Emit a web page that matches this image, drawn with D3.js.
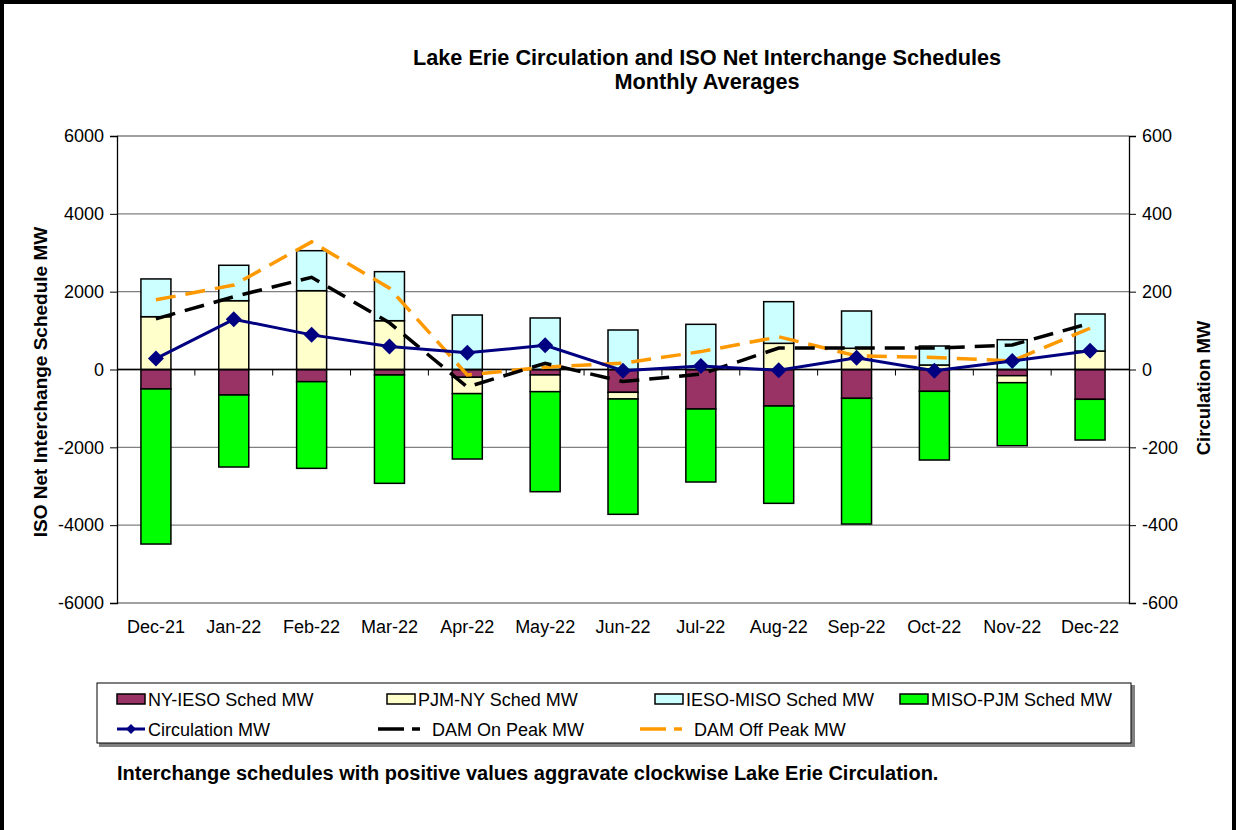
<!DOCTYPE html>
<html><head><meta charset="utf-8">
<script src="https://cdn.jsdelivr.net/npm/d3@7"></script>
<style>body{margin:0;background:#fff;}svg{display:block;font-family:"Liberation Sans",Arial,sans-serif;}</style>
</head><body><svg id="c" width="1236" height="830"></svg>
<script>
const categories = ["Dec-21","Jan-22","Feb-22","Mar-22","Apr-22","May-22","Jun-22","Jul-22","Aug-22","Sep-22","Oct-22","Nov-22","Dec-22"];
const nyIeso   = [-500,-655,-313,-141,-200,-140,-586,-1015,-938,-741,-561,-159,-766];
const pjmNy    = [1357,1768,2025,1254,-420,-430,-172,0,673,545,116,-180,475];
const iesoMiso = [970,910,1028,1260,1400,1324,1015,1161,1070,958,488,766,951];
const misoPjm  = [-3985,-1851,-2227,-2784,-1680,-2570,-2963,-1876,-2501,-3230,-1765,-1619,-1046];
const circulation = [28,129,89,59,43,62,-3,9,-2,30,-3,22,48];
const damOnPeak   = [130,187,237,120,-45,16,-31,-12,55,55,55,63,119];
const damOffPeak  = [179,217,328,209,-14,6,16,46,84,35,31,22,106];
const leftTicks = [-6000,-4000,-2000,0,2000,4000,6000];
const rightTicks = [-600,-400,-200,0,200,400,600];

const barSeries = [
  {name:"NY-IESO Sched MW", values:nyIeso, color:"#993366"},
  {name:"PJM-NY Sched MW", values:pjmNy, color:"#FFFFCC"},
  {name:"IESO-MISO Sched MW", values:iesoMiso, color:"#CCFFFF"},
  {name:"MISO-PJM Sched MW", values:misoPjm, color:"#00FF00"}
];
const lineSeries = [
  {name:"Circulation MW", values:circulation, color:"#000080", dash:null, marker:true},
  {name:"DAM On Peak MW", values:damOnPeak, color:"#000000", dash:"20,10", marker:false},
  {name:"DAM Off Peak MW", values:damOffPeak, color:"#FF9900", dash:"20,10", marker:false}
];

const svg = d3.select("#c");
const L=117, R=1129, T=136, B=603;
const x = d3.scaleBand().domain(categories).range([L,R]).padding(0);
const yL = d3.scaleLinear().domain([-6000,6000]).range([B,T]);
const yR = d3.scaleLinear().domain([-600,600]).range([B,T]);

// outer frame
svg.append("rect").attr("x",2).attr("y",2).attr("width",1232).attr("height",840)
  .attr("fill","none").attr("stroke","#000").attr("stroke-width",4);

// title
svg.append("text").attr("x",707).attr("y",65).attr("text-anchor","middle")
  .attr("font-size",21.7).attr("font-weight","bold").text("Lake Erie Circulation and ISO Net Interchange Schedules");
svg.append("text").attr("x",707).attr("y",89).attr("text-anchor","middle")
  .attr("font-size",21.7).attr("font-weight","bold").text("Monthly Averages");

// gridlines
svg.append("g").selectAll("line").data(leftTicks).join("line")
  .attr("x1",L).attr("x2",R).attr("y1",d=>yL(d)).attr("y2",d=>yL(d))
  .attr("stroke","#808080").attr("stroke-width",1.3);

// left axis
const gl = svg.append("g").attr("transform",`translate(${L},0)`)
  .call(d3.axisLeft(yL).tickValues(leftTicks).tickSize(7).tickPadding(6).tickFormat(d=>String(d)));
gl.select(".domain").attr("stroke","#000").attr("stroke-width",1.3);
gl.selectAll(".tick line").attr("stroke","#000");
gl.selectAll("text").attr("font-size",18).attr("font-family","Liberation Sans, Arial, sans-serif").attr("fill","#000");

// right axis
const gr = svg.append("g").attr("transform",`translate(${R},0)`)
  .call(d3.axisRight(yR).tickValues(rightTicks).tickSize(7).tickPadding(6).tickFormat(d=>String(d)));
gr.select(".domain").attr("stroke","#000").attr("stroke-width",1.3);
gr.selectAll(".tick line").attr("stroke","#000");
gr.selectAll("text").attr("font-size",18).attr("font-family","Liberation Sans, Arial, sans-serif").attr("fill","#000");

// axis titles
svg.append("text").attr("transform",`translate(47,${382}) rotate(-90)`).attr("text-anchor","middle")
  .attr("font-size",19).attr("font-weight","bold").text("ISO Net Interchange Schedule MW");
svg.append("text").attr("transform",`translate(1210,${388}) rotate(-90)`).attr("text-anchor","middle")
  .attr("font-size",18.5).attr("font-weight","bold").text("Circulation MW");

// stacked bars
const bw = 30;
const stacks = [];
categories.forEach((c,i)=>{
  let pos=0, neg=0;
  barSeries.forEach(s=>{
    const v = s.values[i];
    if (v>=0){ stacks.push({c, y0:pos, y1:pos+v, color:s.color}); pos+=v; }
    else { stacks.push({c, y0:neg+v, y1:neg, color:s.color}); neg+=v; }
  });
});
svg.append("g").selectAll("rect").data(stacks.filter(d=>d.y1-d.y0>0)).join("rect")
  .attr("x",d=>x(d.c)+x.bandwidth()/2-bw/2).attr("width",bw)
  .attr("y",d=>yL(d.y1)).attr("height",d=>yL(d.y0)-yL(d.y1))
  .attr("fill",d=>d.color).attr("stroke","#000").attr("stroke-width",1.5);

// zero axis with category ticks
svg.append("line").attr("x1",L).attr("x2",R).attr("y1",yL(0)).attr("y2",yL(0)).attr("stroke","#000").attr("stroke-width",1.3);
svg.append("g").selectAll("line").data(categories.slice(1)).join("line")
  .attr("x1",d=>x(d)).attr("x2",d=>x(d)).attr("y1",yL(0)).attr("y2",yL(0)+6)
  .attr("stroke","#000").attr("stroke-width",1);

// x labels
svg.append("g").selectAll("text").data(categories).join("text")
  .attr("x",d=>x(d)+x.bandwidth()/2).attr("y",633).attr("text-anchor","middle")
  .attr("font-size",18).text(d=>d);

// lines
const line = d3.line().x((d,i)=>x(categories[i])+x.bandwidth()/2).y(d=>yR(d));
lineSeries.slice().reverse().forEach(s=>{
  svg.append("path").datum(s.values).attr("d",line).attr("fill","none")
    .attr("stroke",s.color).attr("stroke-width",s.marker?3:3.5)
    .attr("stroke-dasharray",s.dash);
  if (s.marker){
    svg.append("g").selectAll("path").data(s.values).join("path")
      .attr("transform",(d,i)=>`translate(${x(categories[i])+x.bandwidth()/2},${yR(d)})`)
      .attr("d","M0,-8L8,0L0,8L-8,0Z").attr("fill",s.color);
  }
});

// legend
const lg = svg.append("g");
lg.append("rect").attr("x",99).attr("y",685).attr("width",1036).attr("height",62).attr("fill","#808080");
lg.append("rect").attr("x",97).attr("y",683).attr("width",1034).attr("height",60).attr("fill","#fff").attr("stroke","#000").attr("stroke-width",1);
const colX = [117,387,655,900];
barSeries.forEach((s,i)=>{
  lg.append("rect").attr("x",colX[i]).attr("y",694).attr("width",28).attr("height",10)
    .attr("fill",s.color).attr("stroke","#000").attr("stroke-width",1.5);
  lg.append("text").attr("x",colX[i]+31).attr("y",706).attr("font-size",18).text(s.name);
});
const lcolX = [117,378,640];
lineSeries.forEach((s,i)=>{
  if (s.marker){
    lg.append("line").attr("x1",lcolX[i]).attr("x2",lcolX[i]+28).attr("y1",729).attr("y2",729).attr("stroke",s.color).attr("stroke-width",3);
    lg.append("path").attr("transform",`translate(${lcolX[i]+14},729)`).attr("d","M0,-5L5,0L0,5L-5,0Z").attr("fill",s.color);
    lg.append("text").attr("x",lcolX[i]+31).attr("y",736).attr("font-size",18).text(s.name);
  } else {
    lg.append("line").attr("x1",lcolX[i]).attr("x2",lcolX[i]+42).attr("y1",729).attr("y2",729).attr("stroke",s.color).attr("stroke-width",3.5).attr("stroke-dasharray","26,8");
    lg.append("text").attr("x",lcolX[i]+54).attr("y",736).attr("font-size",18).text(s.name);
  }
});

// footnote
svg.append("text").attr("x",117).attr("y",780).attr("font-size",20).attr("font-weight","bold")
  .text("Interchange schedules with positive values aggravate clockwise Lake Erie Circulation.");
</script></body></html>
